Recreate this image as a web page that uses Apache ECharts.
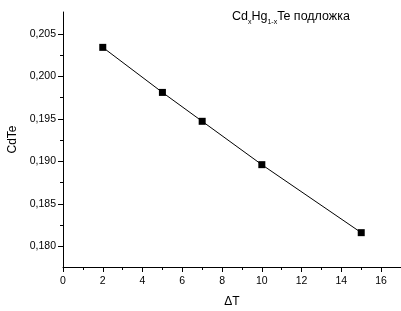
<!DOCTYPE html>
<html>
<head>
<meta charset="utf-8">
<script src="https://cdn.jsdelivr.net/npm/echarts@6/dist/echarts.min.js"></script>
<style>
  html, body { margin: 0; padding: 0; background: #fff; }
  #chart { width: 401px; height: 311px; }
</style>
</head>
<body>
<div id="chart"></div>
<script>
// values
var dT = [2, 5, 7, 10, 15]
var cdte = [0.2034, 0.1981, 0.1947, 0.1896, 0.1816]

var xMajor = [0, 2, 4, 6, 8, 10, 12, 14, 16]
var xMinor = [1, 3, 5, 7, 9, 11, 13, 15]
var yMajor = [0.180, 0.185, 0.190, 0.195, 0.200, 0.205]
var yMinor = [0.1775, 0.1825, 0.1875, 0.1925, 0.1975, 0.2025]

var FONT = 'Liberation Sans'
var xMin = 0, xMax = 17
var yMin = 0.17756, yMax = 0.20756

var chart = echarts.init(document.getElementById('chart'))

function axisBase(extra) {
  var a = {
    type: 'value',
    axisLine: { show: true, onZero: false, lineStyle: { color: '#000', width: 1 } },
    splitLine: { show: false },
    axisTick: { show: true, inside: false, length: 5, lineStyle: { color: '#000' } },
    axisLabel: { show: true, color: '#000', fontFamily: FONT, fontSize: 10.5 }
  }
  return Object.assign(a, extra)
}

var option = {
  animation: false,
  backgroundColor: '#fff',
  grid: { left: 63, right: 0, top: 12, bottom: 44, containLabel: false, outerBoundsMode: 'none' },
  xAxis: [
    axisBase({
      min: xMin, max: xMax,
      name: 'ΔT', nameLocation: 'middle', nameGap: 29,
      nameTextStyle: { color: '#000', fontFamily: FONT, fontSize: 12 },
      axisTick: { show: true, length: 5, customValues: xMajor, lineStyle: { color: '#000' } },
      axisLabel: { color: '#000', fontFamily: FONT, fontSize: 10.5, margin: 9, customValues: xMajor }
    }),
    axisBase({
      min: xMin, max: xMax, position: 'bottom',
      axisLine: { show: false },
      axisTick: { show: true, length: 3, customValues: xMinor, lineStyle: { color: '#000' } },
      axisLabel: { show: false }
    })
  ],
  yAxis: [
    axisBase({
      min: yMin, max: yMax,
      name: 'CdTe', nameLocation: 'middle', nameGap: 40, nameRotate: 90,
      nameTextStyle: { color: '#000', fontFamily: FONT, fontSize: 12 },
      axisTick: { show: true, length: 5, customValues: yMajor, lineStyle: { color: '#000' } },
      axisLabel: {
        color: '#000', fontFamily: FONT, fontSize: 10.5, margin: 7, customValues: yMajor,
        formatter: function (v) { return v.toFixed(3).replace('.', ',') }
      }
    }),
    axisBase({
      min: yMin, max: yMax, position: 'left',
      axisLine: { show: false },
      axisTick: { show: true, length: 3, customValues: yMinor, lineStyle: { color: '#000' } },
      axisLabel: { show: false }
    })
  ],
  graphic: [{
    type: 'text',
    x: 232, y: 10,
    style: {
      text: '{n|Cd}{s|x}{n|Hg}{s|1-x}{n|Te подложка}',
      align: 'left', verticalAlign: 'top',
      rich: {
        n: { fontFamily: FONT, fontSize: 12.5, fill: '#000', verticalAlign: 'bottom' },
        s: { fontFamily: FONT, fontSize: 7, fill: '#000', padding: [0, 0, -3, 0], verticalAlign: 'bottom' }
      }
    }
  }],
  series: [{
    type: 'line',
    data: dT.map(function (x, i) { return [x, cdte[i]] }),
    symbol: 'rect', symbolSize: 7,
    itemStyle: { color: '#000' },
    lineStyle: { color: '#000', width: 1 }
  }]
}

chart.setOption(option)
</script>
</body>
</html>
